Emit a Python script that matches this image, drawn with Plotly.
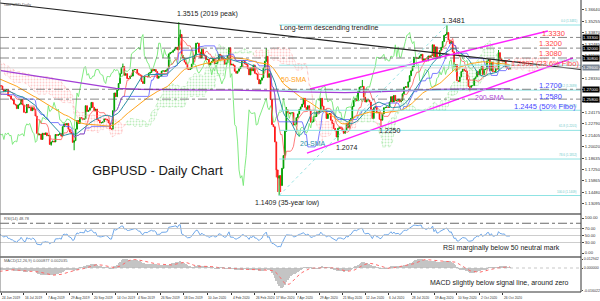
import numpy as np
import pandas as pd
import plotly.graph_objects as go

# ---------------- data (daily closes) ----------------
START = "2019-03-04"
WARMUP = 80  # bars before 24 Jun 2019 (indicator warm-up)

c_2019_03 = [1.3185,1.3160,1.3110,1.3030,1.3010, 1.3140,1.3070,1.3320,1.3220,1.3255,
             1.3260,1.3260,1.3200,1.3090,1.3210, 1.3200,1.3200,1.3210,1.3040,1.3030]
c_2019_04 = [1.3150,1.3120,1.3170,1.3070,1.3035, 1.3060,1.3055,1.3110,1.3070,1.3085,
             1.3100,1.3050,1.3040,1.2995,1.2990, 1.3000,1.2970,1.2915,1.2895,1.2920,
             1.2940,1.3040]
c_2019_05 = [1.3045,1.3035,1.3170, 1.3110,1.3095,1.3015,1.3000,1.3005, 1.2935,1.2910,1.2850,1.2800,1.2715,
             1.2725,1.2710,1.2655,1.2665,1.2710, 1.2680,1.2650,1.2625,1.2615,1.2625]
c_2019_06 = [1.2660,1.2715,1.2690,1.2705,1.2740, 1.2665,1.2720,1.2695,1.2680,1.2590,
             1.2545,1.2535,1.2690,1.2720,1.2745, 1.2740,1.2695,1.2670,1.2690,1.2695]
c_2019_07 = [1.2620,1.2620,1.2580,1.2570,1.2520, 1.2510,1.2465,1.2510,1.2520,1.2575,
             1.2510,1.2420,1.2415,1.2515,1.2475, 1.2480,1.2440,1.2475,1.2455,1.2375,
             1.2165,1.2145,1.2155]
c_2019_08 = [1.2090,1.2165, 1.2150,1.2170,1.2135,1.2140,1.2030, 1.2060,1.2070,1.2060,1.2150,1.2140,
             1.2150,1.2160,1.2130,1.2245,1.2280, 1.2265,1.2285,1.2215,1.2180,1.2160]
c_2019_09 = [1.2055,1.2075,1.2215,1.2320,1.2285, 1.2355,1.2350,1.2335,1.2340,1.2500,
             1.2430,1.2445,1.2475,1.2540,1.2480, 1.2440,1.2460,1.2330,1.2320,1.2290, 1.2295]
c_2019_10 = [1.2305,1.2340,1.2335,1.2325, 1.2290,1.2220,1.2215,1.2440,1.2655,
             1.2610,1.2690,1.2770,1.2890,1.2965, 1.2975,1.2870,1.2890,1.2830,1.2830,
             1.2860,1.2860,1.2935,1.2940]
c_2019_11 = [1.2940, 1.2895,1.2875,1.2870,1.2795,1.2770, 1.2855,1.2855,1.2850,1.2895,1.2905,
             1.2945,1.2925,1.2940,1.2915,1.2835, 1.2860,1.2860,1.2920,1.2925,1.2915]
c_2019_12 = [1.2930,1.2950,1.3130,1.3145,1.3150, 1.3170,1.3190,1.3210,1.3180,1.3330,
             1.3365,1.3110,1.3080,1.3030,1.3005, 1.2945,1.2940,1.2950,1.3005,1.3075, 1.3115,1.3260]
c_2020_01 = [1.3260,1.3150,1.3080, 1.3185,1.3120,1.3105,1.3060,1.3065, 1.2995,1.3020,1.3040,1.3070,1.3010,
             1.3015,1.3050,1.3125,1.3110,1.3075, 1.3065,1.3005,1.3020,1.3110,1.3205]
c_2020_02 = [1.2995,1.3005,1.2990,1.2920,1.2895, 1.2920,1.2950,1.2975,1.3045,1.3050,
             1.3010,1.3000,1.2950,1.2875,1.2960, 1.2925,1.2995,1.2895,1.2885,1.2820]
c_2020_03 = [1.2765,1.2810,1.2840,1.2960,1.3040, 1.3100,1.2845,1.2890,1.2575,1.2270,
             1.2245,1.2060,1.1720,1.1620,1.1650, 1.1530,1.1740,1.1895,1.2190,1.2450, 1.2415,1.2405]
c_2020_04 = [1.2410,1.2415,1.2265, 1.2275,1.2355,1.2400,1.2455,1.2485, 1.2520,1.2590,1.2480,1.2450,1.2500,
             1.2440,1.2300,1.2305,1.2365,1.2370, 1.2425,1.2420,1.2440,1.2590]
c_2020_05 = [1.2495, 1.2435,1.2450,1.2345,1.2400,1.2405, 1.2325,1.2285,1.2225,1.2195,1.2120,
             1.2225,1.2240,1.2225,1.2195,1.2165, 1.2200,1.2285,1.2230,1.2320,1.2345]
c_2020_06 = [1.2490,1.2565,1.2585,1.2560,1.2670, 1.2725,1.2730,1.2735,1.2605,1.2545,
             1.2570,1.2570,1.2545,1.2455,1.2345, 1.2475,1.2490,1.2415,1.2420,1.2335, 1.2325,1.2400]
c_2020_07 = [1.2475,1.2480,1.2485, 1.2480,1.2545,1.2610,1.2545,1.2625, 1.2560,1.2565,1.2580,1.2545,1.2565,
             1.2645,1.2725,1.2730,1.2725,1.2790, 1.2865,1.2925,1.2975,1.3090,1.3085]
c_2020_08 = [1.3075,1.3080,1.3105,1.3125,1.3050, 1.3070,1.3045,1.3045,1.3105,1.3090,
             1.3110,1.3240,1.3095,1.3215,1.3090, 1.3090,1.3170,1.3210,1.3280,1.3355, 1.3365]
c_2020_09 = [1.3390,1.3300,1.3255,1.3280, 1.3155,1.2980,1.3000,1.2805,1.2795,
             1.2850,1.2915,1.2945,1.2925,1.2920, 1.2815,1.2735,1.2725,1.2745,1.2745,
             1.2830,1.2850,1.2915]
c_2020_10 = [1.2875,1.2940, 1.2975,1.2880,1.2940,1.2945,1.3045, 1.3060,1.2925,1.3030,1.2915,1.2915,
             1.2950,1.2945,1.3145,1.3070,1.3045, 1.3035,1.3050,1.2970,1.2955,1.2945]
c_2020_11 = [1.2960]

wick_high = {"2019-10-21": 1.3012, "2019-12-13": 1.3515, "2019-12-16": 1.3425,
             "2020-03-09": 1.3200, "2020-03-27": 1.2485, "2020-06-10": 1.2813,
             "2020-09-01": 1.3481, "2020-10-21": 1.3177}
wick_low = {"2019-08-12": 1.2015, "2019-09-03": 1.1959, "2020-03-18": 1.1630,
            "2020-03-19": 1.1452, "2020-03-20": 1.1409, "2020-03-23": 1.1451,
            "2020-05-18": 1.2074, "2020-06-29": 1.2252, "2020-09-23": 1.2676}

# 200-SMA read every 16 bars from the chart
sma200_x = [0, 16, 32, 48, 64, 80, 96, 112, 128, 144, 160, 176, 192, 208, 224, 240,
            256, 272, 288, 304, 320, 336, 352, 355]
sma200_y = [1.2926, 1.2882, 1.2837, 1.2793, 1.2749, 1.2712, 1.2700, 1.2694, 1.2691, 1.2690,
            1.2690, 1.2688, 1.2680, 1.2668, 1.2660, 1.2658, 1.2665, 1.2678, 1.2690, 1.2697,
            1.2702, 1.2704, 1.2705, 1.2705]

# drawn lines (bar index, price)
trend_x, trend_y = [-0.7, 404.5], [1.3748, 1.2940]
chan_up_x, chan_up_y = [215.5, 381.4], [1.2703, 1.3408]
chan_lo_x, chan_lo_y = [213.4, 398.9], [1.1925, 1.3080]
levels_red = [1.3330, 1.3200, 1.3080]
levels_blue = [1.2700, 1.2580]
fib_low, fib_high = 1.1409, 1.3481
fib_low_date, fib_high_date = "2020-03-20", "2020-09-01"
fib_pct = [0.0, 23.6, 38.2, 50.0, 61.8, 78.6, 100.0]

price_ticks = ["1.13095", "1.14480", "1.15865", "1.17250", "1.18635", "1.20020", "1.21405",
               "1.22790", "1.24175", "1.25560", "1.26945", "1.28330", "1.29715", "1.31100",
               "1.32485", "1.33870", "1.35255", "1.36640"]
rsi_ticks = ["0.00", "30.00", "50.00", "70.00", "100.00"]
macd_ticks = ["-0.016022", "0.000000", "0.012942"]
date_labels = ["24 Jun 2019", "16 Jul 2019", "7 Aug 2019", "29 Aug 2019", "20 Sep 2019",
               "14 Oct 2019", "4 Nov 2019", "26 Nov 2019", "18 Dec 2019", "10 Jan 2020",
               "4 Feb 2020", "26 Feb 2020", "17 Mar 2020", "7 Apr 2020", "29 Apr 2020",
               "21 May 2020", "12 Jun 2020", "6 Jul 2020", "28 Jul 2020", "19 Aug 2020",
               "10 Sep 2020", "2 Oct 2020", "26 Oct 2020"]

# ---------------- build series ----------------
close = pd.Series(np.concatenate([c_2019_03, c_2019_04, c_2019_05, c_2019_06, c_2019_07,
                                  c_2019_08, c_2019_09, c_2019_10, c_2019_11, c_2019_12,
                                  c_2020_01, c_2020_02, c_2020_03, c_2020_04, c_2020_05,
                                  c_2020_06, c_2020_07, c_2020_08, c_2020_09, c_2020_10,
                                  c_2020_11]))
n = len(close)
dates = pd.bdate_range(START, periods=n)
x = np.arange(n) - WARMUP
opn = close.shift(1).fillna(close.iloc[0])
high = pd.Series(np.maximum(opn.values, close.values))
low = pd.Series(np.minimum(opn.values, close.values))


def pos(d):
    return int(np.searchsorted(dates, pd.Timestamp(d)))


for d, v in wick_high.items():
    i = pos(d)
    high[i] = max(high[i], v)
for d, v in wick_low.items():
    i = pos(d)
    low[i] = min(low[i], v)

tenkan = (high.rolling(9).max() + low.rolling(9).min()) / 2
kijun = (high.rolling(26).max() + low.rolling(26).min()) / 2
spanA = ((tenkan + kijun) / 2).values
spanB = ((high.rolling(52).max() + low.rolling(52).min()) / 2).values
sma20 = close.rolling(20).mean()
sma50 = close.rolling(50).mean()

delta = close.diff()
gain = delta.clip(lower=0).ewm(alpha=1 / 14, adjust=False).mean()
loss = (-delta.clip(upper=0)).ewm(alpha=1 / 14, adjust=False).mean()
rsi = 100 - 100 / (1 + gain / loss)
macd = close.ewm(span=12, adjust=False).mean() - close.ewm(span=26, adjust=False).mean()
signal = macd.rolling(9).mean()

vis = x >= -1
XR = [-0.7, 404.5]
PRICE_RANGE = [1.11964, 1.37848]
FONT = "Liberation Sans"

fig = go.Figure()

# Ichimoku cloud (shifted 26 bars forward)
sx = x + 26
valid = ~np.isnan(spanA) & ~np.isnan(spanB) & (sx >= -2)
idxs = np.where(valid)[0]
runs, cur = [], [idxs[0]]
for i in idxs[1:]:
    if (spanA[i] >= spanB[i]) == (spanA[cur[0]] >= spanB[cur[0]]):
        cur.append(i)
    else:
        cur.append(i)
        runs.append(cur)
        cur = [i]
runs.append(cur)
for r in runs:
    r = np.array(r)
    bull = spanA[r[0]] >= spanB[r[0]]
    col = "#7ddc7d" if bull else "#ff9a9a"
    fig.add_trace(go.Scatter(
        x=np.concatenate([sx[r], sx[r][::-1]]),
        y=np.concatenate([spanA[r], spanB[r][::-1]]),
        fill="toself", mode="lines", line=dict(width=0.4, color=col, dash="dot"),
        fillcolor="rgba(0,0,0,0)",
        fillpattern=dict(shape=".", fgcolor=col, bgcolor="rgba(0,0,0,0)", size=3, solidity=0.3),
        hoverinfo="skip", xaxis="x", yaxis="y"))

# candles
fig.add_trace(go.Candlestick(
    x=x[vis], open=opn[vis], high=high[vis], low=low[vis], close=close[vis],
    increasing=dict(line=dict(color="#00a000", width=1), fillcolor="#00a000"),
    decreasing=dict(line=dict(color="#ff1a1a", width=1), fillcolor="#ff1a1a"),
    whiskerwidth=0, xaxis="x", yaxis="y", hoverinfo="skip"))

# indicator lines
chik_vis = (x - 26) >= -1
fig.add_trace(go.Scatter(x=(x - 26)[chik_vis], y=close[chik_vis], mode="lines",
                         line=dict(color="#74e874", width=0.9), xaxis="x", yaxis="y"))
fig.add_trace(go.Scatter(x=x[vis], y=tenkan[vis], mode="lines",
                         line=dict(color="#ff5a5a", width=0.8), xaxis="x", yaxis="y"))
fig.add_trace(go.Scatter(x=x[vis], y=kijun[vis], mode="lines",
                         line=dict(color="#5a5aff", width=0.8), xaxis="x", yaxis="y"))
fig.add_trace(go.Scatter(x=x[vis], y=sma20[vis], mode="lines",
                         line=dict(color="#2a8fa5", width=1), xaxis="x", yaxis="y"))
fig.add_trace(go.Scatter(x=x[vis], y=sma50[vis], mode="lines",
                         line=dict(color="#ffa41c", width=1), xaxis="x", yaxis="y"))
fig.add_trace(go.Scatter(x=sma200_x, y=sma200_y, mode="lines",
                         line=dict(color="#a23fd6", width=1.3), xaxis="x", yaxis="y"))

# trendlines
fig.add_trace(go.Scatter(x=trend_x, y=trend_y, mode="lines",
                         line=dict(color="#222222", width=1.1), xaxis="x", yaxis="y"))
fig.add_trace(go.Scatter(x=chan_up_x, y=chan_up_y, mode="lines",
                         line=dict(color="#ff22ff", width=1.4), xaxis="x", yaxis="y"))
fig.add_trace(go.Scatter(x=chan_lo_x, y=chan_lo_y, mode="lines",
                         line=dict(color="#ff22ff", width=1.4), xaxis="x", yaxis="y"))

# fibo
fl, fh = x[pos(fib_low_date)], x[pos(fib_high_date)]
fig.add_trace(go.Scatter(x=[fl, fh], y=[fib_low, fib_high], mode="lines",
                         line=dict(color="#7fdcdc", width=0.8, dash="dot"), xaxis="x", yaxis="y"))
shapes = []
annots = []
for p in fib_pct:
    lv = fib_high - p / 100 * (fib_high - fib_low)
    shapes.append(dict(type="line", xref="x", yref="y", x0=fl, x1=XR[1], y0=lv, y1=lv,
                       line=dict(color="#8fe3e3", width=1)))
    annots.append(dict(xref="paper", yref="y", x=0.997, y=lv, xanchor="right", yanchor="bottom",
                       text=f"{p:.1f} ({lv:.4f})", showarrow=False,
                       font=dict(size=3, color="#6cc9c9", family=FONT)))

# horizontal levels
for lv in levels_red + levels_blue:
    shapes.append(dict(type="line", xref="paper", yref="y", x0=0, x1=1, y0=lv, y1=lv,
                       line=dict(color="#555555", width=0.7, dash="dashdot")))
    annots.append(dict(xref="paper", yref="y", x=1, y=lv, xanchor="left", yanchor="middle",
                       xshift=1, text=f"{lv:.5f}", showarrow=False, bgcolor="#000000",
                       borderpad=0, font=dict(size=4.2, color="white", family=FONT)))
last = close.iloc[-1]
shapes.append(dict(type="line", xref="paper", yref="y", x0=0, x1=1, y0=last, y1=last,
                   line=dict(color="#c8c8c8", width=0.8)))
annots.append(dict(xref="paper", yref="y", x=1, y=last, xanchor="left", yanchor="middle",
                   xshift=1, text=f"{last:.5f}", showarrow=False, bgcolor="#7d8896",
                   borderpad=0, font=dict(size=4.2, color="white", family=FONT)))

# RSI panel
for lv, col, dash in [(70, "#c0c0c0", "solid"), (50, "#c0c0c0", "solid"), (30, "#c0c0c0", "solid"),
                      (85, "#444444", "dashdot")]:
    shapes.append(dict(type="line", xref="paper", yref="y2", x0=0, x1=1, y0=lv, y1=lv,
                       line=dict(color=col, width=0.8, dash=dash)))
fig.add_trace(go.Scatter(x=x[vis], y=rsi[vis], mode="lines",
                         line=dict(color="#6fa8ea", width=1), xaxis="x2", yaxis="y2"))

# MACD panel
mv = macd[vis]
fig.add_trace(go.Bar(x=x[vis], y=mv, marker=dict(color="#c4c4c4", line=dict(width=0)),
                     width=0.55, xaxis="x3", yaxis="y3"))
fig.add_trace(go.Scatter(x=x[vis], y=signal[vis], mode="lines",
                         line=dict(color="#ff6a6a", width=1, dash="dot"), xaxis="x3", yaxis="y3"))
shapes.append(dict(type="line", xref="paper", yref="y3", x0=0, x1=1, y0=0, y1=0,
                   line=dict(color="#b0b0b0", width=0.7, dash="dot")))
s = -mv.min() / 20.0
macd_range = [-24 * s, 10 * s]
macd_tickvals = [-22.8 * s, 0, 9.0 * s]

# panel separators and frame
H = 292.0
for py in (214, 257):
    shapes.append(dict(type="line", xref="paper", yref="paper", x0=0, x1=1,
                       y0=(H - py) / H, y1=(H - py) / H, line=dict(color="#8c8c8c", width=2)))
shapes.append(dict(type="line", xref="paper", yref="paper", x0=0, x1=0, y0=0, y1=1,
                   line=dict(color="#777777", width=1)))
shapes.append(dict(type="line", xref="paper", yref="paper", x0=1, x1=1, y0=0, y1=1,
                   line=dict(color="#333333", width=1)))
shapes.append(dict(type="line", xref="paper", yref="paper", x0=0, x1=1, y0=0, y1=0,
                   line=dict(color="#333333", width=1)))

# text labels
def txt(xv, yv, t, col, size=7, xanchor="center", xref="x", yref="y"):
    annots.append(dict(x=xv, y=yv, xref=xref, yref=yref, text=t, showarrow=False,
                       xanchor=xanchor, yanchor="middle",
                       font=dict(size=size, color=col, family=FONT)))

txt(121.4, 1.3615, "1.3515 (2019 peak)", "#222222", xanchor="left")
txt(193.2, 1.3445, "Long-term descending trendline", "#222222", xanchor="left")
txt(306.2, 1.3530, "1.3481", "#222222", size=7.5, xanchor="left")
txt(385.0, 1.3378, "1.3330", "#ff4545", size=7.5)
txt(383.0, 1.3256, "1.3200", "#ff4545", size=7.5)
txt(383.0, 1.3135, "1.3080", "#ff4545", size=7.5)
txt(379.5, 1.3019, "1.2992 (23.6% Fibo)", "#ff4545", size=7.5)
txt(383.0, 1.2740, "1.2700", "#4747ff", size=7.5)
txt(383.0, 1.2612, "1.2580", "#4747ff", size=7.5)
txt(379.5, 1.2485, "1.2445 (50% Fibo)", "#4747ff", size=7.5)
txt(341.0, 1.2606, "200-SMA", "#b048d8")
txt(204.3, 1.2813, "50-SMA", "#ffa41c")
txt(217.6, 1.2047, "20-SMA", "#2a8fa5")
txt(241.0, 1.1998, "1.2074", "#222222")
txt(271.3, 1.2205, "1.2250", "#222222")
txt(199.5, 1.1318, "1.1409 (35-year low)", "#222222")
txt(108.8, 1.1719, "GBPUSD - Daily Chart", "#1a1a1a", size=13)
txt(2 / 581, (H - 4) / H, "GBPUSD,Daily", "#555555", size=4, xanchor="left", xref="paper", yref="paper")
txt(2 / 581, (H - 218.5) / H, f"RSI(14) {rsi.iloc[-1]:.2f}", "#555555", size=4, xanchor="left",
    xref="paper", yref="paper")
txt(2 / 581, (H - 260) / H, f"MACD(12,26,9) {macd.iloc[-1]:.6f} {signal.iloc[-1]:.6f}", "#555555",
    size=4, xanchor="left", xref="paper", yref="paper")
txt(501 / 581, (H - 248) / H, "RSI marginally below 50 neutral mark", "#222222", size=7,
    xref="paper", yref="paper")
txt(499 / 581, (H - 283) / H, "MACD slightly below signal line, around zero", "#222222", size=7,
    xref="paper", yref="paper")

tick_pos = [int(x[pos(pd.to_datetime(d, format="%d %b %Y"))]) for d in date_labels]
for tp, lab in zip(tick_pos, date_labels):
    annots.append(dict(x=tp, y=0, xref="x3", yref="paper", text=lab, showarrow=False,
                       xanchor="left", yanchor="top", xshift=-1, yshift=-1.5,
                       font=dict(size=3.3, color="#333333", family=FONT)))

axis_common = dict(showgrid=False, zeroline=False, range=XR, showline=False, automargin=False)
yfont = dict(size=4.2, color="#333333", family=FONT)
fig.update_layout(
    width=600, height=301, margin=dict(l=0, r=19, t=0, b=9, autoexpand=False),
    paper_bgcolor="white", plot_bgcolor="white", showlegend=False, hovermode=False,
    font=dict(family=FONT),
    xaxis=dict(domain=[0, 1], anchor="y", showticklabels=False, rangeslider=dict(visible=False),
               **axis_common),
    xaxis2=dict(domain=[0, 1], anchor="y2", showticklabels=False, matches="x", **axis_common),
    xaxis3=dict(domain=[0, 1], anchor="y3", matches="x", tickvals=tick_pos, showticklabels=False,
                ticks="outside", ticklen=2, tickcolor="#333333", **axis_common),
    yaxis=dict(domain=[(H - 213) / H, 1], anchor="x", side="right", range=PRICE_RANGE,
               tickvals=[float(t) for t in price_ticks], ticktext=price_ticks, tickfont=yfont,
               ticks="outside", ticklen=2, showgrid=False, zeroline=False, automargin=False),
    yaxis2=dict(domain=[(H - 256) / H, (H - 215) / H], anchor="x2", side="right",
                range=[-8.57, 108.57], tickvals=[float(t) for t in rsi_ticks], ticktext=rsi_ticks,
                tickfont=yfont, ticks="outside", ticklen=2, showgrid=False, zeroline=False,
                automargin=False),
    yaxis3=dict(domain=[0, (H - 258) / H], anchor="x3", side="right", range=macd_range,
                tickvals=macd_tickvals, ticktext=macd_ticks,
                tickfont=dict(size=3.6, color="#333333", family=FONT),
                ticks="outside", ticklen=1, showgrid=False, zeroline=False, automargin=False),
    shapes=shapes, annotations=annots, bargap=0,
)
fig.write_html("out.html")
